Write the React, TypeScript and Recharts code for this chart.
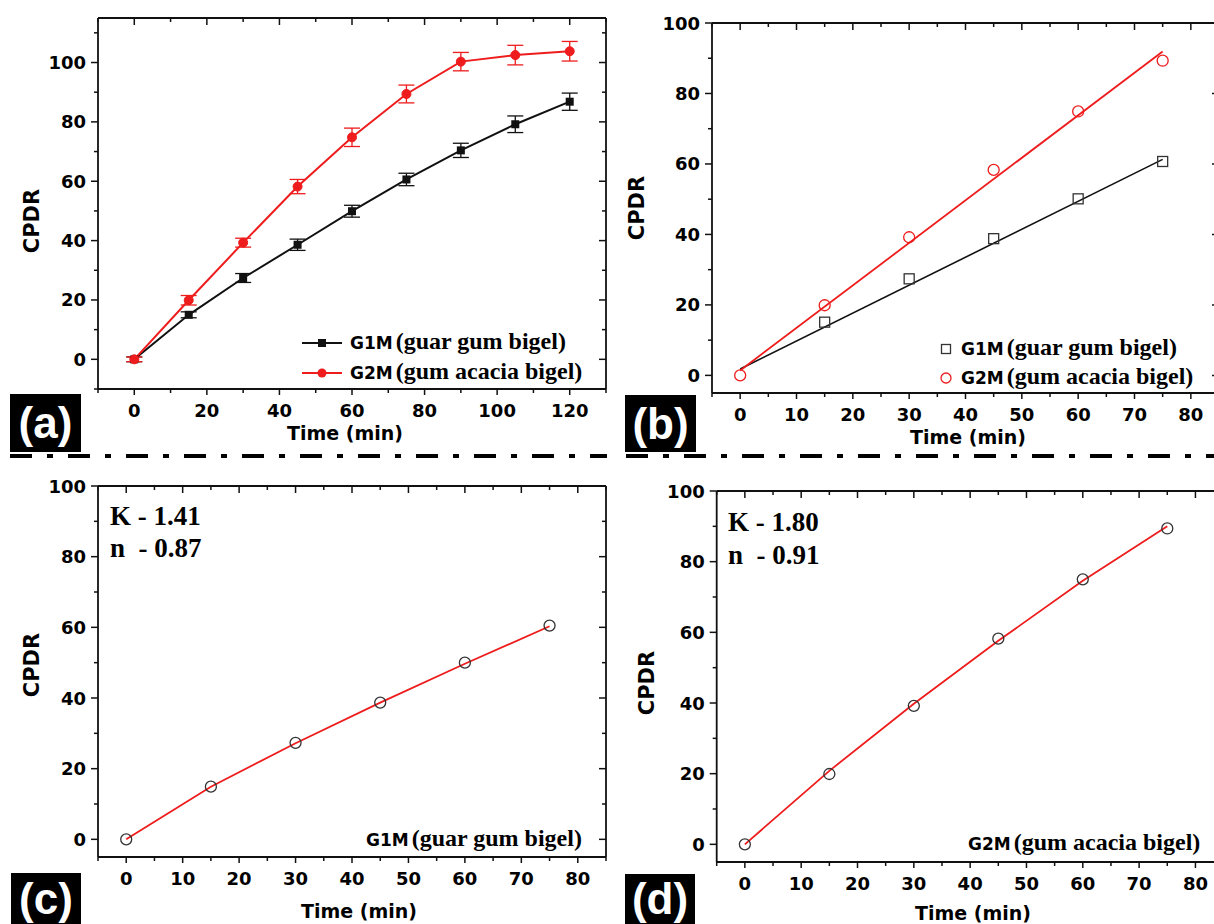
import React from 'react';
import { LineChart, Line, XAxis, YAxis, ErrorBar, Legend } from 'recharts';

const SANS = '"DejaVu Sans", Verdana, sans-serif';
const SERIF = '"Liberation Serif", "Times New Roman", serif';
const LABELFONT = '"Liberation Sans", Arial, sans-serif';
const RED = '#ee1c1c';
const BLACK = '#111111';
const GREY = '#333333';

// ---------- Panel (a): release profiles with error bars ----------
const timeA = [0, 15, 30, 45, 60, 75, 90, 105, 120];
const g1mA = [0, 15.0, 27.4, 38.6, 49.9, 60.6, 70.4, 79.2, 86.8];
const g1mErrA = [0.8, 1.0, 1.5, 1.9, 2.0, 2.1, 2.4, 2.8, 2.9];
const g2mA = [0, 19.9, 39.3, 58.2, 74.8, 89.4, 100.3, 102.5, 103.8];
const g2mErrA = [0.8, 1.6, 1.5, 2.4, 3.1, 3.0, 3.1, 3.3, 3.3];

// ---------- Panel (b): zero-order fits ----------
const timeB = [0, 15, 30, 45, 60, 75];
const g1mB = [null, 15.1, 27.4, 38.8, 50.1, 60.7];
const g2mB = [0, 19.9, 39.2, 58.3, 74.9, 89.3];
const fitTimeB = [0, 75];
const g1mFitB = [1.8, 61.3];
const g2mFitB = [1.4, 91.9];

// ---------- Panel (c): G1M Korsmeyer-Peppas ----------
const timeC = [0, 15, 30, 45, 60, 75];
const g1mC = [0, 14.9, 27.3, 38.7, 50.0, 60.5];
const g1mModelC = [0, 14.9, 27.2, 38.7, 49.7, 60.3];

// ---------- Panel (d): G2M Korsmeyer-Peppas ----------
const timeD = [0, 15, 30, 45, 60, 75];
const g2mD = [0, 19.9, 39.2, 58.2, 75.0, 89.4];
const g2mModelD = [0, 20.8, 39.8, 57.6, 74.6, 90.0];

// ---------- Axis ticks / labels ----------
const xTicksA = [-10, 0, 10, 20, 30, 40, 50, 60, 70, 80, 90, 100, 110, 120, 130];
const yTicksA = [-10, 0, 10, 20, 30, 40, 50, 60, 70, 80, 90, 100, 110];
const xTicksB = [-5, 0, 5, 10, 15, 20, 25, 30, 35, 40, 45, 50, 55, 60, 65, 70, 75, 80, 85];
const yTicksB = [0, 10, 20, 30, 40, 50, 60, 70, 80, 90, 100];
const yTitle = 'CPDR';
const xTitle = 'Time (min)';
const legendNames = ['G1M', 'G2M'];
const legendDetails = ['(guar gum bigel)', '(gum acacia bigel)'];
const kLabelsC = ['K - 1.41', 'n  - 0.87'];
const kLabelsD = ['K - 1.80', 'n  - 0.91'];
const panelTags = ['(a)', '(b)', '(c)', '(d)'];

const rowsA = timeA.map((t, i) => ({ t, g1: g1mA[i], e1: g1mErrA[i], g2: g2mA[i], e2: g2mErrA[i] }));
const rowsB = timeB.map((t, i) => {
  const k = fitTimeB.indexOf(t);
  return {
    t,
    g1: g1mB[i],
    g2: g2mB[i],
    f1: k >= 0 ? g1mFitB[k] : null,
    f2: k >= 0 ? g2mFitB[k] : null,
  };
});
const rowsC = timeC.map((t, i) => ({ t, p: g1mC[i], m: g1mModelC[i] }));
const rowsD = timeD.map((t, i) => ({ t, p: g2mD[i], m: g2mModelD[i] }));

type Side = 'bottom' | 'left' | 'top' | 'right';

function makeTick(side: Side, majorStep: number, showLabel: boolean) {
  return (props: any) => {
    const { x, y, payload } = props;
    const v = payload.value;
    const major = Math.abs(v % majorStep) < 1e-9;
    const len = major ? 7 : 4;
    let line: any = null;
    if (side === 'bottom') line = <line x1={x} y1={y} x2={x} y2={y + (major ? 6 : 4)} stroke={BLACK} strokeWidth={1.5} />;
    if (side === 'top') line = <line x1={x} y1={y} x2={x} y2={y + len} stroke={BLACK} strokeWidth={1.5} />;
    if (side === 'left') line = <line x1={x - len} y1={y} x2={x} y2={y} stroke={BLACK} strokeWidth={1.5} />;
    if (side === 'right') line = <line x1={x - len} y1={y} x2={x} y2={y} stroke={BLACK} strokeWidth={1.5} />;
    let label: any = null;
    if (showLabel && major) {
      if (side === 'bottom')
        label = (
          <text x={x} y={y + 28} textAnchor="middle" fontFamily={SANS} fontWeight="bold" fontSize={18} fill="#000">
            {v}
          </text>
        );
      if (side === 'left')
        label = (
          <text x={x - 12} y={y + 6.5} textAnchor="end" fontFamily={SANS} fontWeight="bold" fontSize={18} fill="#000">
            {v}
          </text>
        );
    }
    return (
      <g>
        {line}
        {label}
      </g>
    );
  };
}

const squareDot = (size: number, fill: string, stroke: string, sw: number) => (p: any) => {
  if (p.cx == null || p.cy == null || p.value == null) return <g key={`s${p.index}`} />;
  return (
    <rect
      key={`s${p.index}`}
      x={p.cx - size / 2}
      y={p.cy - size / 2}
      width={size}
      height={size}
      fill={fill}
      stroke={stroke}
      strokeWidth={sw}
    />
  );
};

const axisLine = { stroke: BLACK, strokeWidth: 1.8 };

function frameAxes(xDomain: number[], xTicks: number[], xMajor: number, yDomain: number[], yTicks: number[], yMajor: number, yt: { x: number; y: number }, xt: { x: number; y: number }) {
  return [
    <XAxis
      key="xb"
      dataKey="t"
      type="number"
      domain={xDomain}
      ticks={xTicks}
      interval={0}
      allowDataOverflow
      height={1}
      tickSize={0}
      tickMargin={0}
      tickLine={false}
      axisLine={axisLine}
      tick={makeTick('bottom', xMajor, true)}
      label={() => (
        <text x={xt.x} y={xt.y} textAnchor="middle" fontFamily={SANS} fontWeight="bold" fontSize={19} fill="#000">
          {xTitle}
        </text>
      )}
    />,
    <XAxis
      key="xt"
      xAxisId="top"
      orientation="top"
      dataKey="t"
      type="number"
      domain={xDomain}
      ticks={xTicks}
      interval={0}
      allowDataOverflow
      height={1}
      tickSize={0}
      tickMargin={0}
      tickLine={false}
      axisLine={axisLine}
      tick={makeTick('top', xMajor, false)}
    />,
    <YAxis
      key="yl"
      type="number"
      domain={yDomain}
      ticks={yTicks}
      interval={0}
      allowDataOverflow
      width={1}
      tickSize={0}
      tickMargin={0}
      tickLine={false}
      axisLine={axisLine}
      tick={makeTick('left', yMajor, true)}
      label={() => (
        <text
          x={yt.x}
          y={yt.y}
          textAnchor="middle"
          transform={`rotate(-90 ${yt.x} ${yt.y})`}
          fontFamily={SANS}
          fontWeight="bold"
          fontSize={21}
          fill="#000"
        >
          {yTitle}
        </text>
      )}
    />,
    <YAxis
      key="yr"
      yAxisId="right"
      orientation="right"
      type="number"
      domain={yDomain}
      ticks={yTicks}
      interval={0}
      allowDataOverflow
      width={1}
      tickSize={0}
      tickMargin={0}
      tickLine={false}
      axisLine={axisLine}
      tick={makeTick('right', yMajor, false)}
    />,
  ];
}

function seriesText(x: number, y: number, idx: number) {
  return (
    <text x={x} y={y} fill="#000" fontWeight="bold">
      <tspan fontFamily={SANS} fontSize={17}>{legendNames[idx]}</tspan>
      <tspan fontFamily={SERIF} fontSize={24} dx={3}>{legendDetails[idx]}</tspan>
    </text>
  );
}

function overlay(w: number, h: number, children: any) {
  return (
    <Legend
      layout="vertical"
      align="center"
      verticalAlign="middle"
      wrapperStyle={{ position: 'absolute', left: 0, top: 0, width: w, height: h, pointerEvents: 'none' }}
      content={() => (
        <svg width={w} height={h} style={{ display: 'block', overflow: 'visible' }}>
          {children}
        </svg>
      )}
    />
  );
}

function PanelA() {
  const W = 620, H = 455;
  return (
    <div style={{ position: 'absolute', left: 0, top: 0 }}>
      <LineChart width={W} height={H} data={rowsA} margin={{ top: 17, right: 13, bottom: 65, left: 97 }}>
        {frameAxes([-10, 130], xTicksA, 20, [-10, 115], yTicksA, 20, { x: 39, y: 221 }, { x: 345, y: 440 })}
        <Line dataKey="g1" stroke={BLACK} strokeWidth={2} isAnimationActive={false} dot={squareDot(8, BLACK, BLACK, 0)} activeDot={false}>
          <ErrorBar dataKey="e1" width={8} stroke={BLACK} strokeWidth={1.3} direction="y" />
        </Line>
        <Line dataKey="g2" stroke={RED} strokeWidth={2} isAnimationActive={false} dot={{ r: 4.5, fill: RED, stroke: RED, strokeWidth: 1 }} activeDot={false}>
          <ErrorBar dataKey="e2" width={8} stroke={RED} strokeWidth={1.3} direction="y" />
        </Line>
        {overlay(W, H, (
          <g>
            <line x1={302} y1={343} x2={342} y2={343} stroke={BLACK} strokeWidth={2} />
            <rect x={318} y={339} width={8} height={8} fill={BLACK} />
            {seriesText(350, 349, 0)}
            <line x1={302} y1={373} x2={342} y2={373} stroke={RED} strokeWidth={2} />
            <circle cx={322} cy={373} r={4.5} fill={RED} />
            {seriesText(350, 379, 1)}
          </g>
        ))}
      </LineChart>
    </div>
  );
}

function PanelB() {
  const L = 612, T = 0, W = 622, H = 455;
  return (
    <div style={{ position: 'absolute', left: L, top: T }}>
      <LineChart width={W} height={H} data={rowsB} margin={{ top: 22, right: 14, bottom: 61, left: 99 }}>
        {frameAxes([-5, 85], xTicksB, 10, [-5, 100], yTicksB, 20, { x: 644 - L, y: 208 }, { x: 968 - L, y: 444 })}
        <Line dataKey="f1" stroke={BLACK} strokeWidth={1.6} connectNulls dot={false} activeDot={false} isAnimationActive={false} />
        <Line dataKey="f2" stroke={RED} strokeWidth={1.8} connectNulls dot={false} activeDot={false} isAnimationActive={false} />
        <Line dataKey="g1" stroke="none" isAnimationActive={false} dot={squareDot(10, 'none', GREY, 1.3)} activeDot={false} />
        <Line dataKey="g2" stroke="none" isAnimationActive={false} dot={{ r: 5.5, fill: 'none', stroke: RED, strokeWidth: 1.3 }} activeDot={false} />
        {overlay(W, H, (
          <g>
            <rect x={946 - L - 4.5} y={349 - 4.5} width={9} height={9} fill="none" stroke={GREY} strokeWidth={1.3} />
            {seriesText(961 - L, 355, 0)}
            <circle cx={946 - L} cy={378} r={5} fill="none" stroke={RED} strokeWidth={1.3} />
            {seriesText(961 - L, 384, 1)}
          </g>
        ))}
      </LineChart>
    </div>
  );
}

function PanelCD(props: { left: number; top: number; width: number; height: number; margin: any; rows: any[]; yt: any; xt: any; k: string[]; kx: number; ky: number[]; sx: number; sy: number; idx: number }) {
  const { left, top, width, height, margin, rows, yt, xt, k, kx, ky, sx, sy, idx } = props;
  return (
    <div style={{ position: 'absolute', left, top }}>
      <LineChart width={width} height={height} data={rows} margin={margin}>
        {frameAxes([-5, 85], xTicksB, 10, [-5, 100], yTicksB, 20, yt, xt)}
        <Line dataKey="m" stroke={RED} strokeWidth={1.8} dot={false} activeDot={false} isAnimationActive={false} />
        <Line dataKey="p" stroke="none" isAnimationActive={false} dot={{ r: 5.5, fill: 'none', stroke: GREY, strokeWidth: 1.3 }} activeDot={false} />
        {overlay(width, height, (
          <g>
            <text x={kx} y={ky[0]} fontFamily={SERIF} fontWeight="bold" fontSize={27} fill="#000" style={{ whiteSpace: 'pre' }}>{k[0]}</text>
            <text x={kx} y={ky[1]} fontFamily={SERIF} fontWeight="bold" fontSize={27} fill="#000" style={{ whiteSpace: 'pre' }}>{k[1]}</text>
            {seriesText(sx, sy, idx)}
          </g>
        ))}
      </LineChart>
    </div>
  );
}

function Tag(props: { x: number; y: number; w: number; h: number; text: string }) {
  return (
    <div
      style={{
        position: 'absolute',
        left: props.x,
        top: props.y,
        width: props.w,
        height: props.h,
        background: '#000',
        color: '#fff',
        fontFamily: LABELFONT,
        fontWeight: 'bold',
        fontSize: 44,
        lineHeight: `${props.h}px`,
        textAlign: 'center',
        overflow: 'hidden',
      }}
    >
      {props.text}
    </div>
  );
}

export default function App() {
  return (
    <div style={{ position: 'absolute', left: 0, top: 0, width: 1214, height: 924, overflow: 'hidden', background: '#fff' }}>
      <PanelA />
      <PanelB />
      <PanelCD
        left={0}
        top={458}
        width={620}
        height={466}
        margin={{ top: 27, right: 13, bottom: 66, left: 97 }}
        rows={rowsC}
        yt={{ x: 39, y: 665 - 458 }}
        xt={{ x: 359, y: 918 - 458 }}
        k={kLabelsC}
        kx={110}
        ky={[525 - 458, 557 - 458]}
        sx={366}
        sy={846 - 458}
        idx={0}
      />
      <PanelCD
        left={612}
        top={458}
        width={622}
        height={466}
        margin={{ top: 32, right: 9.4, bottom: 61, left: 103.7 }}
        rows={rowsD}
        yt={{ x: 654 - 612, y: 683 - 458 }}
        xt={{ x: 973 - 612, y: 920 - 458 }}
        k={kLabelsD}
        kx={728 - 612}
        ky={[531 - 458, 564 - 458]}
        sx={968 - 612}
        sy={850 - 458}
        idx={1}
      />
      <svg width={1214} height={924} style={{ position: 'absolute', left: 0, top: 0, pointerEvents: 'none' }}>
        <line x1={10} y1={456} x2={607} y2={456} stroke="#000" strokeWidth={4} strokeDasharray="22 15 6 15" />
        <line x1={626} y1={456} x2={1214} y2={456} stroke="#000" strokeWidth={4} strokeDasharray="22 15 6 15" />
      </svg>
      <Tag x={10} y={394} w={71} h={58} text={panelTags[0]} />
      <Tag x={625} y={395} w={71} h={57} text={panelTags[1]} />
      <Tag x={11} y={873} w={70} h={51} text={panelTags[2]} />
      <Tag x={625} y={874} w={70} h={50} text={panelTags[3]} />
    </div>
  );
}
